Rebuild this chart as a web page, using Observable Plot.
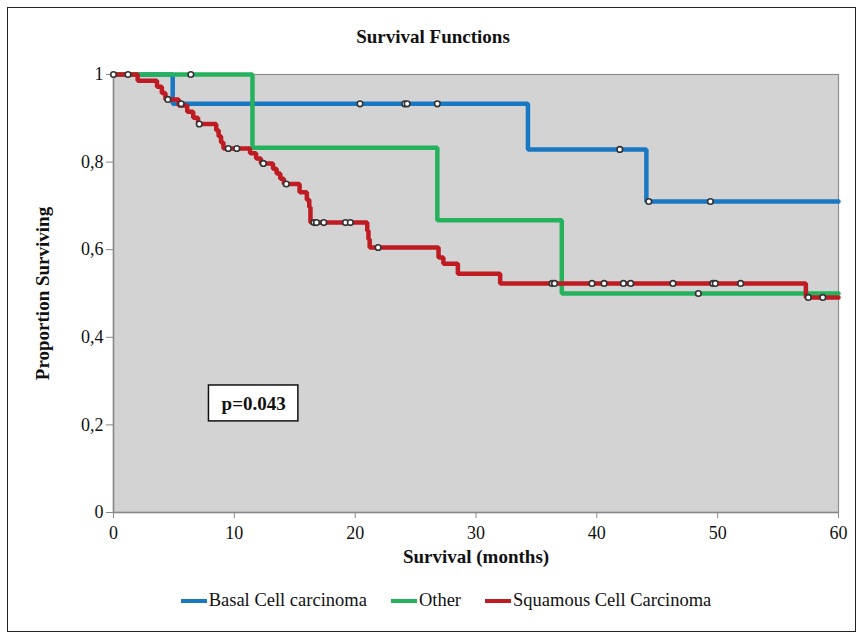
<!DOCTYPE html>
<html>
<head>
<meta charset="utf-8">
<script src="https://cdn.jsdelivr.net/npm/d3@7"></script>
<script src="https://cdn.jsdelivr.net/npm/@observablehq/plot@0.6"></script>
<style>
  html, body { margin: 0; padding: 0; background: #fff; }
  body { width: 862px; height: 635px; position: relative; overflow: hidden; font-family: "Liberation Serif", "Times New Roman", serif; }
  #frame { position: absolute; left: 7px; top: 7px; width: 849px; height: 625px; border: 1.5px solid #222; box-sizing: border-box; }
  #title { position: absolute; left: 0; width: 866px; top: 26px; text-align: center; font-weight: bold; font-size: 19px; color: #111; }
  #chart { position: absolute; left: 0; top: 0; }
  #legend { position: absolute; left: 0; width: 892px; top: 590px; display: flex; justify-content: center; align-items: center; font-size: 18.5px; color: #111; }
  .item { display: flex; align-items: center; margin: 0 12px; }
  .sw { width: 26px; height: 4px; margin-right: 2px; }
</style>
</head>
<body>
<div id="frame"></div>
<div id="title"></div>
<div id="chart"></div>
<div id="legend"></div>
<script>
// ---- data ----
const titleText = "Survival Functions";
const xLabel = "Survival (months)";
const yLabel = "Proportion Surviving";
const groups = ["Basal Cell carcinoma", "Other", "Squamous Cell Carcinoma"];
const groupColors = ["#1a77c2", "#25b25c", "#bf1b22"];
const xTicks = [0, 10, 20, 30, 40, 50, 60];
const yTicks = [0, 0.2, 0.4, 0.6, 0.8, 1];
const yTickLabels = ["0", "0,2", "0,4", "0,6", "0,8", "1"];
const pValueText = "p=0.043";
const pBoxX = [7.9, 15.3];
const pBoxY = [0.208, 0.29];

// Basal Cell carcinoma (step function)
const basalTimes = [0, 4.9, 34.3, 44.1, 60];
const basalSurv  = [1, 0.933, 0.829, 0.710, 0.710];
const basalCensorTimes = [5.6, 20.4, 24.1, 24.3, 26.8, 41.9, 44.3, 49.4];
const basalCensorSurv  = [0.933, 0.933, 0.933, 0.933, 0.933, 0.829, 0.710, 0.710];

// Other
const otherTimes = [0, 11.5, 26.8, 37.1, 60];
const otherSurv  = [1, 0.833, 0.667, 0.500, 0.500];
const otherCensorTimes = [6.4, 48.4];
const otherCensorSurv  = [1, 0.500];

// Squamous Cell Carcinoma
const squamTimes = [0, 2.0, 3.6, 4.0, 4.3, 5.4, 6.1, 6.6, 7.0, 8.5, 8.7, 8.9, 9.1, 11.3, 11.8, 12.2, 13.2, 13.5, 13.8, 14.1, 15.4, 16.0, 16.2, 16.3, 21.0, 21.1, 21.2, 26.9, 27.3, 28.5, 32.0, 57.3, 60];
const squamSurv  = [1, 0.986, 0.972, 0.958, 0.943, 0.929, 0.915, 0.901, 0.887, 0.873, 0.859, 0.845, 0.831, 0.820, 0.808, 0.797, 0.785, 0.774, 0.762, 0.750, 0.731, 0.714, 0.697, 0.662, 0.643, 0.624, 0.605, 0.582, 0.568, 0.545, 0.523, 0.491, 0.491];
const squamCensorTimes = [0, 1.2, 4.5, 7.1, 9.5, 10.2, 12.4, 14.3, 16.6, 16.8, 17.4, 19.2, 19.6, 21.9, 36.3, 36.5, 39.6, 40.6, 42.2, 42.8, 46.3, 49.6, 49.8, 51.9, 57.5, 58.7];
const squamCensorSurv  = [1, 1, 0.943, 0.887, 0.831, 0.831, 0.797, 0.750, 0.662, 0.662, 0.662, 0.662, 0.662, 0.605, 0.523, 0.523, 0.523, 0.523, 0.523, 0.523, 0.523, 0.523, 0.523, 0.523, 0.491, 0.491];

// ---- build tables ----
const series = [
  {name: groups[0], t: basalTimes, s: basalSurv, ct: basalCensorTimes, cs: basalCensorSurv},
  {name: groups[1], t: otherTimes, s: otherSurv, ct: otherCensorTimes, cs: otherCensorSurv},
  {name: groups[2], t: squamTimes, s: squamSurv, ct: squamCensorTimes, cs: squamCensorSurv}
];
const lineRows = series.flatMap(g => g.t.map((t, i) => ({group: g.name, t, s: g.s[i]})));
const censorRows = series.flatMap(g => g.ct.map((t, i) => ({group: g.name, t, s: g.cs[i]})));
const color = {domain: groups, range: groupColors};

document.getElementById("title").textContent = titleText;

const chart = Plot.plot({
  width: 862,
  height: 580,
  marginLeft: 113,
  marginRight: 24,
  marginTop: 74,
  marginBottom: 68,
  style: {fontFamily: "'Liberation Serif', 'Times New Roman', serif", fontSize: "18px", color: "#111", background: "transparent"},
  x: {domain: [0, 60]},
  y: {domain: [0, 1]},
  color,
  marks: [
    Plot.frame({fill: "#d3d3d3", stroke: "#8e8e8e", strokeWidth: 1.2}),
    Plot.axisX({ticks: xTicks, tickSize: 6, tickPadding: 8, stroke: "#888", label: null, fill: "#111"}),
    Plot.axisY({ticks: yTicks, tickSize: 7, tickPadding: 3, stroke: "#888", label: null, fill: "#111",
      tickFormat: d => yTickLabels[yTicks.indexOf(d)]}),
    Plot.ruleX([0], {stroke: "#888", strokeWidth: 1.5}),
    Plot.ruleY([0], {stroke: "#888", strokeWidth: 1.5}),
    Plot.line(lineRows, {x: "t", y: "s", z: "group", stroke: "group", curve: "step-after", strokeWidth: 4.5, strokeLinejoin: "miter"}),
    Plot.dot(censorRows, {x: "t", y: "s", r: 2.8, fill: "white", stroke: "#333", strokeWidth: 1.6}),
    Plot.rect([0], {x1: () => pBoxX[0], x2: () => pBoxX[1], y1: () => pBoxY[0], y2: () => pBoxY[1], fill: "white", stroke: "#111", strokeWidth: 1.5}),
    Plot.text([pValueText], {x: () => (pBoxX[0] + pBoxX[1]) / 2, y: () => (pBoxY[0] + pBoxY[1]) / 2, text: d => d, fontWeight: "bold", fontSize: 19, fill: "#111"}),
    Plot.text([xLabel], {frameAnchor: "bottom", dy: 50, text: d => d, fontWeight: "bold", fontSize: 19, fill: "#111"}),
    Plot.text([yLabel], {frameAnchor: "left", textAnchor: "middle", dx: -71, rotate: -90, text: d => d, fontWeight: "bold", fontSize: 19, fill: "#111"})
  ]
});
document.getElementById("chart").appendChild(chart);

const legend = document.getElementById("legend");
groups.forEach((g, i) => {
  const item = document.createElement("div");
  item.className = "item";
  const sw = document.createElement("span");
  sw.className = "sw";
  sw.style.background = groupColors[i];
  const label = document.createElement("span");
  label.textContent = g;
  item.appendChild(sw);
  item.appendChild(label);
  legend.appendChild(item);
});
</script>
</body>
</html>
